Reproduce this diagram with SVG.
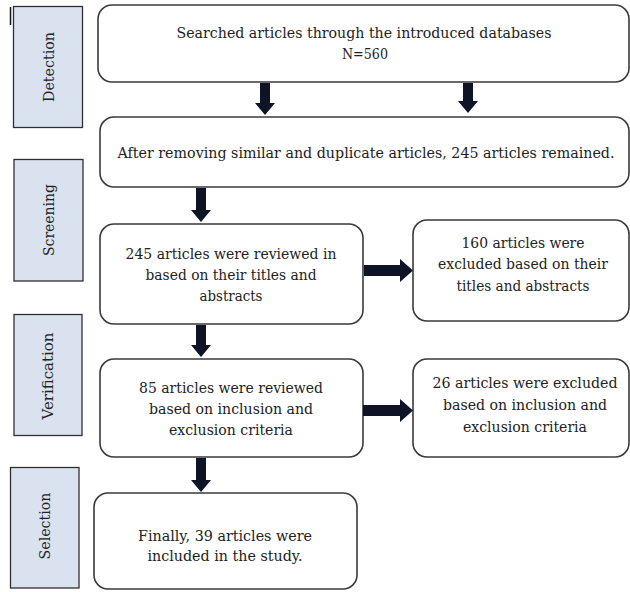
<svg xmlns="http://www.w3.org/2000/svg" width="630" height="592" viewBox="0 0 630 592">
<style>
.bg{fill:#ffffff}
.lab{fill:#dae2f0;stroke:#2f2f2f;stroke-width:1.3}
.box{fill:#ffffff;stroke:#3a3a3a;stroke-width:1.6}
.t{font-family:'DejaVu Serif','Liberation Serif',serif;font-size:15px;fill:#222;text-anchor:middle}
.arr{fill:#0e1426}
</style>
<rect class="bg" x="0" y="0" width="630" height="592"/>
<line x1="10.5" y1="7" x2="10.5" y2="25" stroke="#111" stroke-width="1.5"/>
<g id="label-detection">
<rect class="lab" x="13.5" y="6.5" width="69" height="121"/>
<text class="t" transform="translate(54,67) rotate(-90)" textLength="70" lengthAdjust="spacingAndGlyphs">Detection</text>
</g>
<g id="label-screening">
<rect class="lab" x="14" y="159.5" width="69" height="121.5"/>
<text class="t" transform="translate(54,220) rotate(-90)" textLength="72" lengthAdjust="spacingAndGlyphs">Screening</text>
</g>
<g id="label-verification">
<rect class="lab" x="14" y="314.5" width="68" height="121"/>
<text class="t" transform="translate(53,376) rotate(-90)" textLength="87" lengthAdjust="spacingAndGlyphs">Verification</text>
</g>
<g id="label-selection">
<rect class="lab" x="10.5" y="467.5" width="68.5" height="120.5"/>
<text class="t" transform="translate(50,526) rotate(-90)" textLength="67" lengthAdjust="spacingAndGlyphs">Selection</text>
</g>
<g id="n1">
<rect class="box" x="98" y="5" width="531" height="77" rx="14"/>
<text class="t" x="364" y="38" textLength="375" lengthAdjust="spacingAndGlyphs">Searched articles through the introduced databases</text>
<text class="t" x="365" y="59" textLength="46" lengthAdjust="spacingAndGlyphs">N=560</text>
</g>
<g id="n2">
<rect class="box" x="100" y="117" width="529" height="70" rx="14"/>
<text class="t" x="366" y="158" font-size="14" style="font-size:14px" textLength="497" lengthAdjust="spacingAndGlyphs">After removing similar and duplicate articles, 245 articles remained.</text>
</g>
<g id="n3">
<rect class="box" x="100" y="224" width="263" height="100" rx="14"/>
<text class="t" x="231" y="259" textLength="211" lengthAdjust="spacingAndGlyphs">245 articles were reviewed in</text>
<text class="t" x="231" y="280" textLength="171" lengthAdjust="spacingAndGlyphs">based on their titles and</text>
<text class="t" x="231" y="301" textLength="63" lengthAdjust="spacingAndGlyphs">abstracts</text>
</g>
<g id="n4">
<rect class="box" x="413" y="220" width="216" height="101" rx="14"/>
<text class="t" x="523" y="248" textLength="123" lengthAdjust="spacingAndGlyphs">160 articles were</text>
<text class="t" x="523" y="269" textLength="170" lengthAdjust="spacingAndGlyphs">excluded based on their</text>
<text class="t" x="523" y="291" textLength="133" lengthAdjust="spacingAndGlyphs">titles and abstracts</text>
</g>
<g id="n5">
<rect class="box" x="100" y="359" width="263" height="98" rx="14"/>
<text class="t" x="231" y="393" textLength="184" lengthAdjust="spacingAndGlyphs">85 articles were reviewed</text>
<text class="t" x="231" y="414" textLength="164" lengthAdjust="spacingAndGlyphs">based on inclusion and</text>
<text class="t" x="231" y="435" textLength="124" lengthAdjust="spacingAndGlyphs">exclusion criteria</text>
</g>
<g id="n6">
<rect class="box" x="413" y="359" width="216" height="98" rx="14"/>
<text class="t" x="525" y="388" textLength="185" lengthAdjust="spacingAndGlyphs">26 articles were excluded</text>
<text class="t" x="525" y="410" textLength="164" lengthAdjust="spacingAndGlyphs">based on inclusion and</text>
<text class="t" x="525" y="432" textLength="124" lengthAdjust="spacingAndGlyphs">exclusion criteria</text>
</g>
<g id="n7">
<rect class="box" x="94" y="493" width="263" height="96" rx="14"/>
<text class="t" x="225" y="541" textLength="174" lengthAdjust="spacingAndGlyphs">Finally, 39 articles were</text>
<text class="t" x="225" y="561" textLength="155" lengthAdjust="spacingAndGlyphs">included in the study.</text>
</g>
<g id="connectors">
<polygon class="arr" points="260,83 270,83 270,103 275,103 265,115 255,103 260,103"/>
<polygon class="arr" points="463,83 473,83 473,101 478,101 468,113 458,101 463,101"/>
<polygon class="arr" points="196,188 206,188 206,210 211,210 201,222 191,210 196,210"/>
<polygon class="arr" points="196,325 206,325 206,345 211,345 201,357 191,345 196,345"/>
<polygon class="arr" points="196,458 206,458 206,480 211,480 201,492 191,480 196,480"/>
<polygon class="arr" points="364,265 400,265 400,259 413,270.5 400,282 400,276 364,276"/>
<polygon class="arr" points="363,405 400,405 400,399 413,410.5 400,422 400,416 363,416"/>
</g>
</svg>
